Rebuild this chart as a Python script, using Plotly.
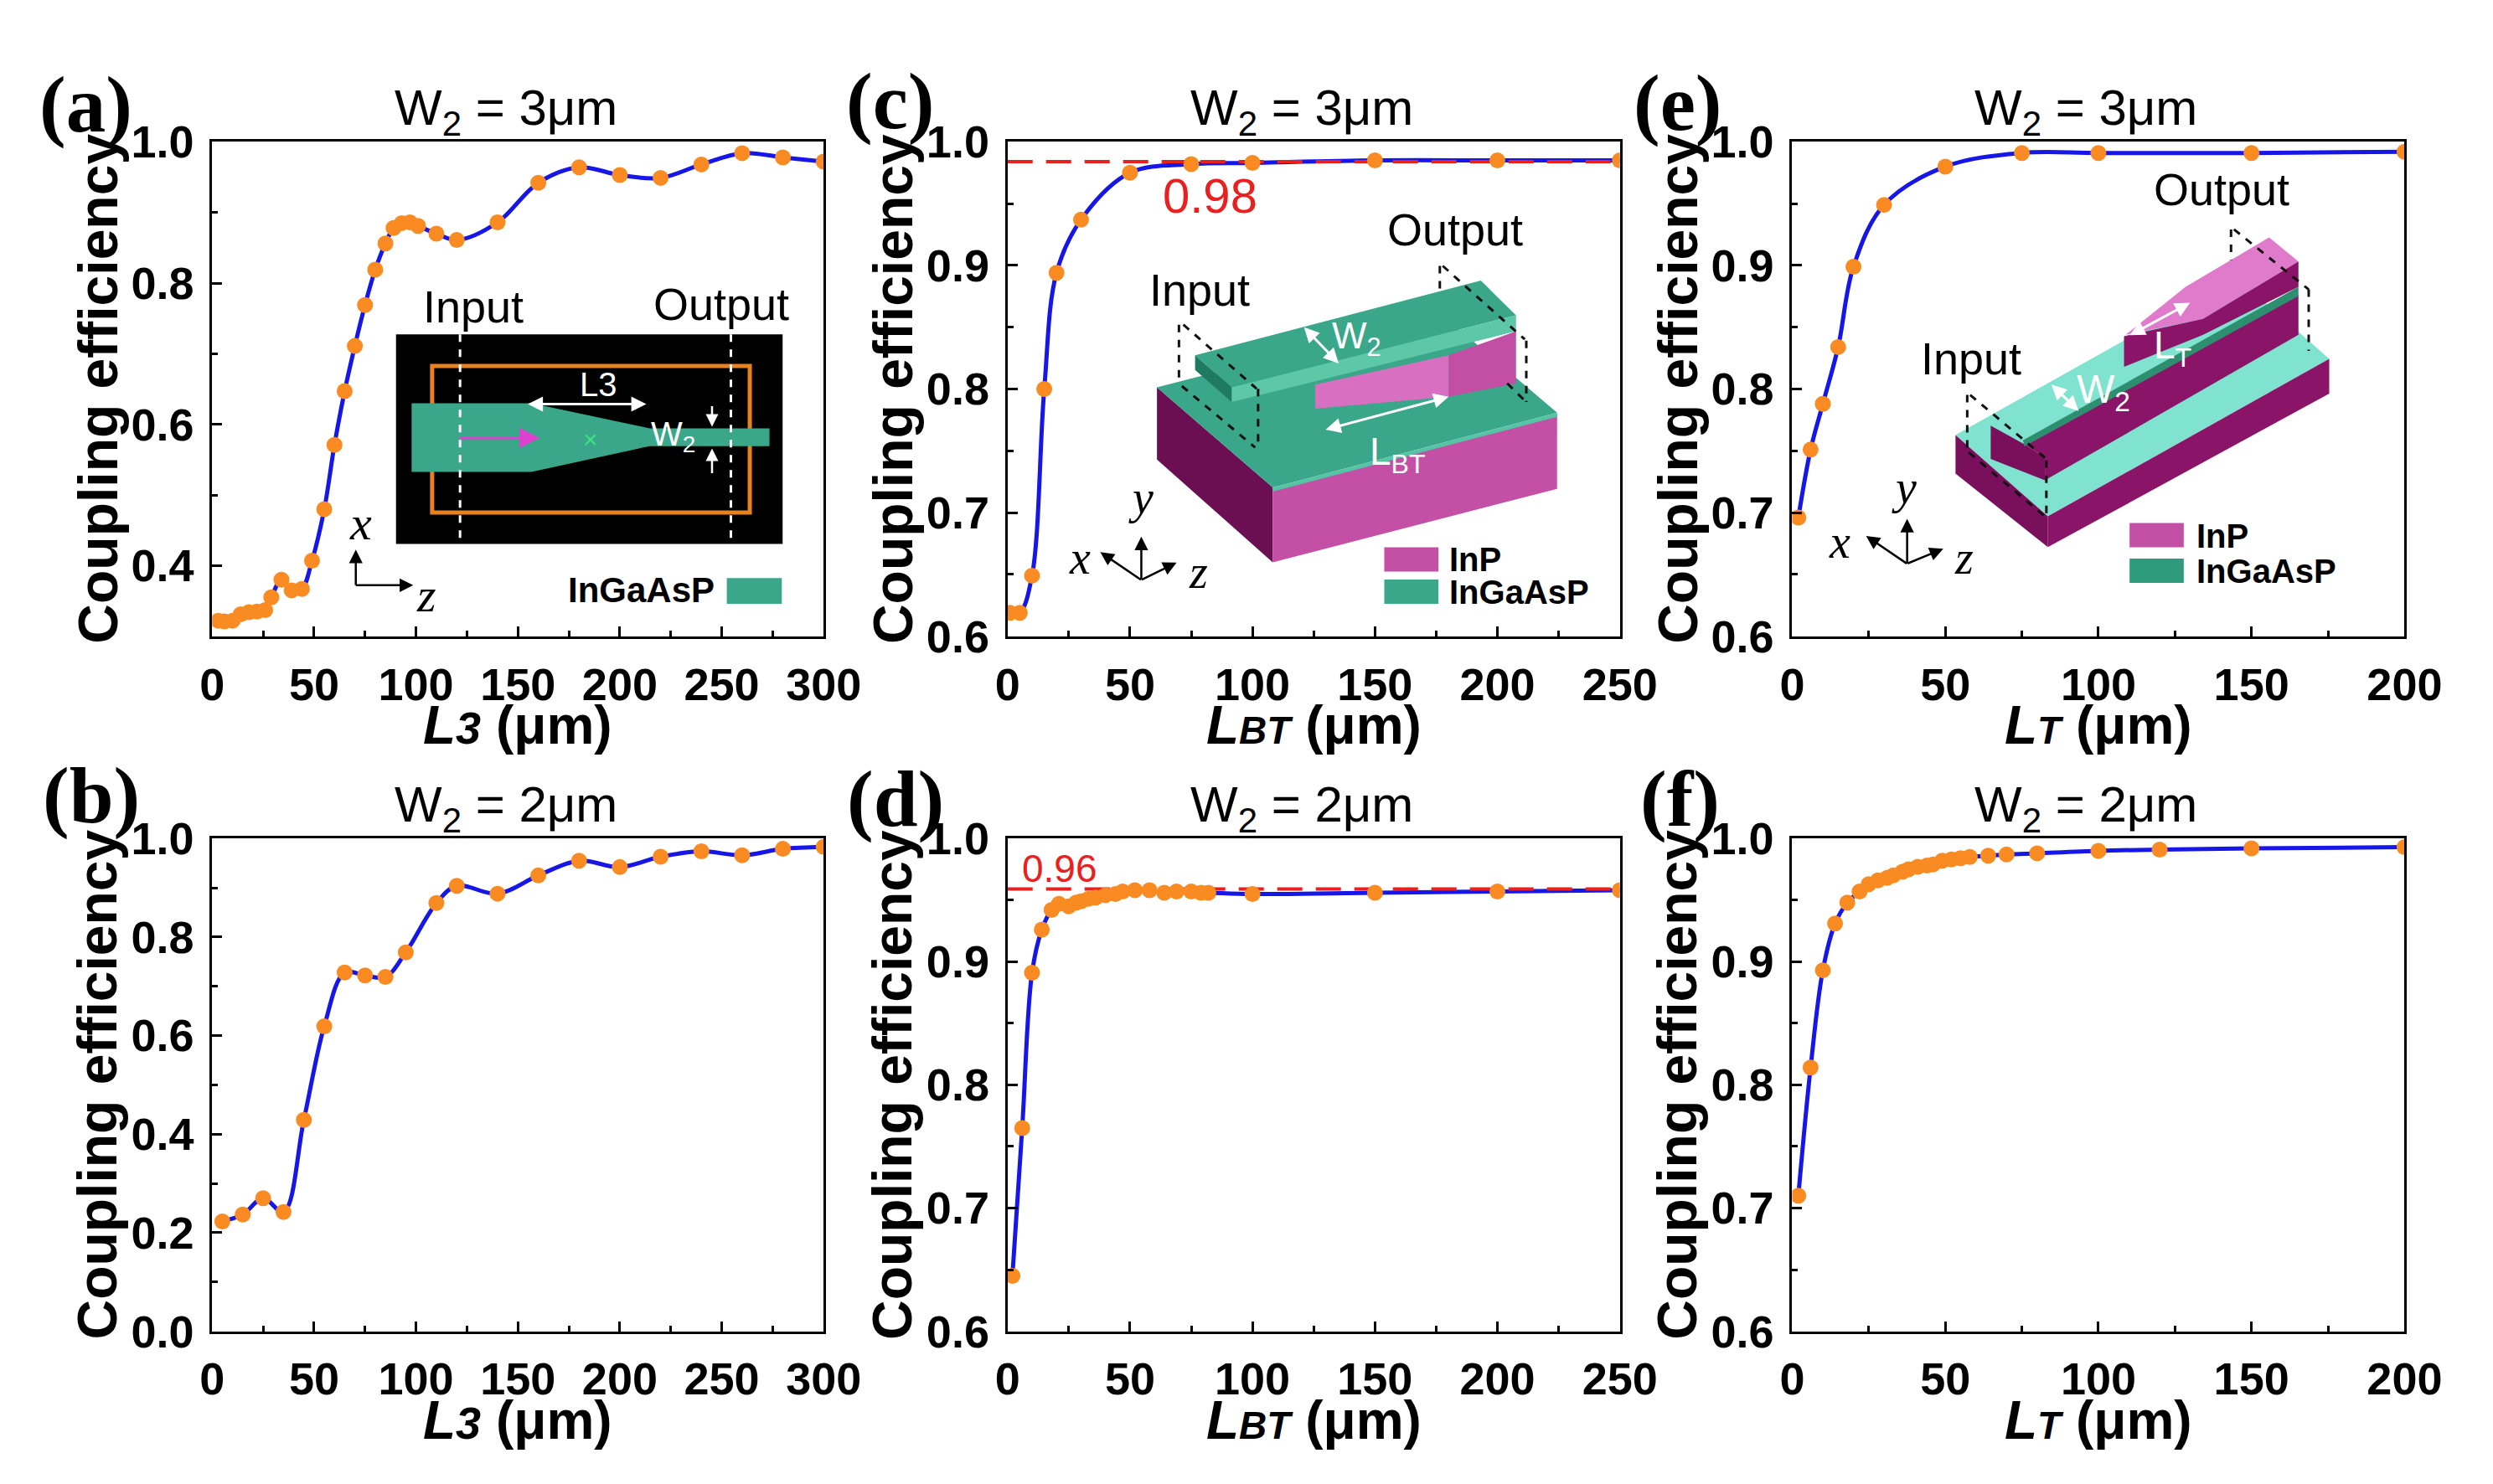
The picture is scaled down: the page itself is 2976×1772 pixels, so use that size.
import plotly.graph_objects as go

W, H = 2976, 1772

# ---------------- data ----------------
a_x = [3, 6, 10, 14, 18, 22, 26, 29, 34, 39, 44, 49, 55, 60, 65, 70, 75, 80, 85, 89,
       93, 97, 101, 110, 120, 140, 160, 180, 200, 220, 240, 260, 280, 300]
a_y = [0.322, 0.321, 0.322, 0.331, 0.334, 0.335, 0.337, 0.355, 0.380, 0.365, 0.367,
       0.407, 0.480, 0.571, 0.647, 0.711, 0.769, 0.819, 0.856, 0.878, 0.885, 0.886,
       0.881, 0.870, 0.861, 0.886, 0.942, 0.964, 0.953, 0.949, 0.968, 0.984, 0.978, 0.972]

b_x = [5, 15, 25, 35, 45, 55, 65, 75, 85, 95, 110, 120, 140, 160, 180, 200, 220, 240, 260, 280, 300]
b_y = [0.223, 0.237, 0.270, 0.242, 0.429, 0.619, 0.728, 0.722, 0.719, 0.769, 0.869,
       0.904, 0.888, 0.925, 0.955, 0.942, 0.963, 0.974, 0.966, 0.979, 0.983]

c_x = [1, 5, 10, 15, 20, 30, 50, 75, 100, 150, 200, 250]
c_y = [0.619, 0.619, 0.649, 0.800, 0.894, 0.937, 0.975, 0.982, 0.983, 0.985, 0.985, 0.985]
c_ref = 0.984
c_ref_label = "0.98"

d_x = [2, 6, 10, 14, 18, 21, 25, 28, 30, 33, 36, 40, 44, 47, 52, 58, 64, 69, 75, 79, 82,
       100, 150, 200, 250]
d_y = [0.645, 0.765, 0.891, 0.926, 0.942, 0.947, 0.945, 0.948, 0.949, 0.951, 0.952,
       0.954, 0.955, 0.957, 0.958, 0.958, 0.956, 0.957, 0.957, 0.956, 0.956, 0.955,
       0.956, 0.957, 0.958]
d_ref = 0.959
d_ref_label = "0.96"

e_x = [2, 6, 10, 15, 20, 30, 50, 75, 100, 150, 200]
e_y = [0.696, 0.751, 0.788, 0.834, 0.899, 0.949, 0.980, 0.991, 0.991, 0.991, 0.992]

f_x = [2, 6, 10, 14, 18, 22, 25, 28, 31, 33, 36, 38, 41, 44, 46, 49, 52, 55, 58, 64, 70,
       80, 100, 120, 150, 200]
f_y = [0.710, 0.814, 0.893, 0.931, 0.948, 0.957, 0.963, 0.966, 0.968, 0.970, 0.973,
       0.975, 0.977, 0.978, 0.979, 0.982, 0.983, 0.984, 0.985, 0.986, 0.987, 0.988,
       0.990, 0.991, 0.992, 0.993]

panel_letters = ["(a)", "(b)", "(c)", "(d)", "(e)", "(f)"]
panel_titles = ["W<sub>2</sub> = 3μm", "W<sub>2</sub> = 2μm"] * 3
y_title = "Coupling efficiency"

# ---------------- styles ----------------
BLUE = "#1616E6"
ORANGE = "#F98B22"
RED = "#E82020"
SANS = "Liberation Sans"
SERIF = "Liberation Serif"
GREEN = "#3AA68A"
PINK = "#C450A6"
DARKP = "#7A0F5C"
CYAN = "#80E3CF"


def PX(x):
    return x / W


def PY(y):
    return 1 - y / H


cols = [(235, 980), (1204, 1950), (2160, 2906)]
rows = [(136, 747), (997, 1606)]

xt_L3 = "<b><i>L<span style='font-size:54px'>3</span></i> (μm)</b>"
xt_LBT = "<b><i>L<span style='font-size:46px'>BT</span></i> (μm)</b>"
xt_LT = "<b><i>L<span style='font-size:46px'>T</span></i> (μm)</b>"

panels = [
    dict(x=a_x, y=a_y, col=0, row=0, xr=[0, 300], yr=[0.3, 1.0], ytick0=0.4, ydt=0.2, ymin=0.1, xt=xt_L3),
    dict(x=b_x, y=b_y, col=0, row=1, xr=[0, 300], yr=[0.0, 1.0], ytick0=0.0, ydt=0.2, ymin=0.1, xt=xt_L3),
    dict(x=c_x, y=c_y, col=1, row=0, xr=[0, 250], yr=[0.6, 1.0], ytick0=0.6, ydt=0.1, ymin=0.05, xt=xt_LBT),
    dict(x=d_x, y=d_y, col=1, row=1, xr=[0, 250], yr=[0.6, 1.0], ytick0=0.6, ydt=0.1, ymin=0.05, xt=xt_LBT),
    dict(x=e_x, y=e_y, col=2, row=0, xr=[0, 200], yr=[0.6, 1.0], ytick0=0.6, ydt=0.1, ymin=0.05, xt=xt_LT),
    dict(x=f_x, y=f_y, col=2, row=1, xr=[0, 200], yr=[0.6, 1.0], ytick0=0.6, ydt=0.1, ymin=0.05, xt=xt_LT),
]
refs = {2: (c_ref, c_ref_label), 3: (d_ref, d_ref_label)}

fig = go.Figure()
layout = dict(width=W, height=H, margin=dict(l=0, r=0, t=0, b=0),
              paper_bgcolor="white", plot_bgcolor="white", showlegend=False)
annotations = []
shapes = []


def txt(x, y, text, size, color="black", family=SANS, xanchor="center", yanchor="middle", angle=0):
    annotations.append(dict(x=PX(x), y=PY(y), xref="paper", yref="paper", text=text,
                            showarrow=False, xanchor=xanchor, yanchor=yanchor, textangle=angle,
                            font=dict(family=family, size=size, color=color)))


def arrow(x0, y0, x1, y1, color="black", width=3, both=False, size=1.3):
    annotations.append(dict(x=PX(x1), y=PY(y1), ax=x0 - x1, ay=y0 - y1, xref="paper", yref="paper",
                            axref="pixel", ayref="pixel", text="", showarrow=True, arrowhead=2,
                            arrowsize=size, arrowwidth=width, arrowcolor=color,
                            arrowside="end+start" if both else "end", standoff=0, startstandoff=0))


def poly(pts, fill, line_color=None, lw=0):
    d = "M " + " L ".join(f"{PX(x):.5f},{PY(y):.5f}" for x, y in pts) + " Z"
    shapes.append(dict(type="path", path=d, xref="paper", yref="paper", fillcolor=fill,
                       line=dict(color=line_color or fill, width=lw), layer="above"))


def seg(x0, y0, x1, y1, color="black", width=3, dash="dash"):
    shapes.append(dict(type="line", x0=PX(x0), y0=PY(y0), x1=PX(x1), y1=PY(y1), xref="paper",
                       yref="paper", line=dict(color=color, width=width, dash=dash), layer="above"))


def rect(x0, y0, x1, y1, fill=None, line_color=None, lw=0):
    shapes.append(dict(type="rect", x0=PX(x0), y0=PY(y0), x1=PX(x1), y1=PY(y1), xref="paper",
                       yref="paper", fillcolor=fill if fill else "rgba(0,0,0,0)",
                       line=dict(color=line_color or "rgba(0,0,0,0)", width=lw), layer="above"))


for i, p in enumerate(panels):
    n = i + 1
    xa = "xaxis" if n == 1 else f"xaxis{n}"
    ya = "yaxis" if n == 1 else f"yaxis{n}"
    xs = "x" if n == 1 else f"x{n}"
    ys = "y" if n == 1 else f"y{n}"
    cl, cr = cols[p["col"]]
    rt, rb = rows[p["row"]]
    common = dict(showline=True, linecolor="black", linewidth=3, mirror=True, ticks="inside",
                  ticklen=12, tickwidth=3, tickcolor="black", showgrid=False, zeroline=False,
                  tickfont=dict(family=SANS, size=54, color="black", weight="bold"),
                  ticklabelstandoff=8)
    layout[xa] = dict(common, domain=[PX(cl), PX(cr)], range=p["xr"], anchor=ys,
                      tickmode="linear", tick0=0, dtick=50,
                      minor=dict(ticks="inside", ticklen=7, tickwidth=3, tickcolor="black",
                                 tickmode="linear", tick0=0, dtick=25))
    layout[ya] = dict(common, domain=[PY(rb), PY(rt)], range=p["yr"], anchor=xs,
                      tickmode="linear", tick0=p["ytick0"], dtick=p["ydt"], tickformat=".1f",
                      minor=dict(ticks="inside", ticklen=7, tickwidth=3, tickcolor="black",
                                 tickmode="linear", tick0=p["yr"][0], dtick=p["ymin"]))
    fig.add_trace(go.Scatter(x=p["x"], y=p["y"], mode="lines", xaxis=xs, yaxis=ys,
                             line=dict(color=BLUE, width=5, shape="spline", smoothing=1.0)))
    if i in refs:
        rv, rl = refs[i]
        fig.add_trace(go.Scatter(x=p["xr"], y=[rv, rv], mode="lines", xaxis=xs, yaxis=ys,
                                 line=dict(color=RED, width=4, dash="30px,16px")))
    fig.add_trace(go.Scatter(x=p["x"], y=p["y"], mode="markers", xaxis=xs, yaxis=ys,
                             marker=dict(color=ORANGE, size=19, line=dict(width=0))))
    # titles / axis titles / letters
    txt((cl + cr) / 2 - 15, rt - 38, panel_titles[i], 60)
    txt((cl + cr) / 2, rb + 110, p["xt"], 64)
    txt(cl - 140, (rt + rb) / 2, f"<b>{y_title}</b>", 66, angle=-90)

letter_pos = [(81, 90), (88, 944), (1061, 86), (1068, 948), (2020, 88), (2023, 948)]
for (lx, ly), lt in zip(letter_pos, panel_letters):
    txt(lx, ly, f"<b>{lt}</b>", 95, family=SERIF)

# reference labels
txt(1451, 202, c_ref_label, 58, color=RED)
txt(1268, 1034, d_ref_label, 46, color=RED)

# ---------------- inset (a): top view of taper ----------------
rect(459, 374, 930, 633, fill="black")
rect(503, 413, 890, 594, line_color="#E8821E", lw=5)
poly([(478, 459), (624, 459), (768, 490), (914, 490), (914, 512), (768, 512), (624, 544), (478, 544)], GREEN)
seg(537, 374, 537, 633, color="white", width=3, dash="dash")
seg(867, 374, 867, 633, color="white", width=3, dash="dash")
arrow(537, 502, 634, 502, color="#E040D0", width=3, size=1.6)
txt(696, 504, "×", 30, color="#40E080")
arrow(621, 460, 764, 460, color="white", width=3, both=True, size=1.2)
txt(706, 436, "L3", 40, color="white")
txt(797, 500, "W<sub>2</sub>", 40, color="white")
arrow(844, 462, 844, 488, color="white", width=2.5, size=1.2)
arrow(844, 546, 844, 515, color="white", width=2.5, size=1.2)
txt(553, 339, "Input", 54)
txt(855, 336, "Output", 54)
arrow(410, 684, 410, 640, width=2.5, size=1.3)
arrow(410, 684, 480, 684, width=2.5, size=1.3)
txt(416, 607, "<i>x</i>", 58, family=SERIF)
txt(496, 696, "<i>z</i>", 58, family=SERIF)
txt(849, 690, "<b>InGaAsP</b>", 42, xanchor="right")
rect(862, 675, 929, 707, fill=GREEN)


# ---------------- inset (c): 3D butt-taper ----------------
def tc(pts):
    return [(1370 + x * 0.3571, 220 + y * 0.33) for x, y in pts]


poly(tc([(45, 665), (440, 1040), (440, 1320), (45, 935)]), "#6B0E52")
poly(tc([(440, 1045), (1410, 765), (1410, 1045), (440, 1320)]), PINK)
poly(tc([(45, 665), (440, 1040), (1410, 760), (1015, 390)]), GREEN)
poly(tc([(440, 1040), (1410, 760), (1410, 775), (440, 1055)]), "#55C4A5")
poly(tc([(585, 655), (1040, 545), (1040, 700), (585, 745)]), "#D96FC0")
poly(tc([(1040, 545), (1270, 455), (1270, 650), (1040, 700)]), "#C24FA4")
poly(tc([(175, 545), (1150, 265), (1270, 395), (300, 665)]), GREEN)
poly(tc([(175, 545), (300, 665), (300, 720), (175, 600)]), "#1E7A60")
poly(tc([(300, 665), (1270, 395), (1270, 455), (300, 720)]), "#5CC8A8")
for (x0, y0, x1, y1) in [(120, 430, 120, 650), (135, 430, 385, 670), (390, 670, 390, 890),
                         (130, 660, 380, 890), (1010, 210, 1010, 300), (1020, 210, 1300, 485),
                         (1305, 490, 1305, 720), (1240, 650, 1305, 720)]:
    (a0, b0), (a1, b1) = tc([(x0, y0), (x1, y1)])
    seg(a0, b0, a1, b1, color="#111111", width=3, dash="dash")
(w0x, w0y), (w1x, w1y) = tc([(545, 440), (665, 575)])
arrow(w0x, w0y, w1x, w1y, color="white", width=3, both=True, size=1.2)
(l0x, l0y), (l1x, l1y) = tc([(625, 820), (1040, 700)])
arrow(l0x, l0y, l1x, l1y, color="white", width=3, both=True, size=1.2)
(tx, ty), = tc([(725, 480)])
txt(tx, ty, "W<sub>2</sub>", 44, color="white")
(tx, ty), = tc([(865, 915)])
txt(tx, ty, "L<sub>BT</sub>", 46, color="white")
txt(1438, 319, "Input", 54)
txt(1749, 244, "Output", 54)
rect(1663, 637, 1729, 667, fill=PINK)
rect(1663, 677, 1729, 707, fill=GREEN)
txt(1740, 652, "<b>InP</b>", 40, xanchor="left")
txt(1740, 692, "<b>InGaAsP</b>", 40, xanchor="left")
arrow(1367, 677, 1367, 624, width=2.5)
arrow(1367, 677, 1317, 643, width=2.5)
arrow(1367, 677, 1410, 656, width=2.5)
txt(1367, 575, "<i>y</i>", 56, family=SERIF)
txt(1292, 650, "<i>x</i>", 56, family=SERIF)
txt(1436, 668, "<i>z</i>", 56, family=SERIF)


# ---------------- inset (e): 3D taper ----------------
def te(pts):
    return [(2300 + x * 0.3571, 160 + y * 0.33) for x, y in pts]


poly(te([(165, 1025), (480, 1330), (1440, 740), (1125, 435)]), CYAN)
poly(te([(165, 1025), (480, 1330), (480, 1445), (165, 1170)]), DARKP)
poly(te([(480, 1330), (1440, 740), (1440, 870), (480, 1445)]), "#8A1467")
poly(te([(285, 990), (400, 1060), (470, 1110), (470, 1195), (285, 1115)]), DARKP)
poly(te([(400, 1060), (1335, 500), (1335, 650), (470, 1195), (470, 1110)]), "#8A1467")
poly(te([(395, 1045), (1335, 470), (1335, 505), (400, 1068)]), "#2E8F70")
poly(te([(745, 650), (950, 470), (1235, 285), (1335, 375), (1010, 590)]), "#E07BCB")
poly(te([(740, 655), (1010, 590), (1335, 375), (1335, 470), (1010, 650), (740, 770)]), "#8A1467")
for (x0, y0, x1, y1) in [(205, 875, 205, 1090), (215, 875, 470, 1110), (475, 1120, 475, 1335),
                         (210, 1090, 470, 1330), (1105, 255, 1105, 370), (1115, 255, 1370, 480),
                         (1370, 480, 1370, 710)]:
    (a0, b0), (a1, b1) = te([(x0, y0), (x1, y1)])
    seg(a0, b0, a1, b1, color="#111111", width=3, dash="dash")
(w0x, w0y), (w1x, w1y) = te([(490, 835), (585, 935)])
arrow(w0x, w0y, w1x, w1y, color="white", width=3, both=True, size=1.2)
(l0x, l0y), (l1x, l1y) = te([(760, 650), (965, 530)])
arrow(l0x, l0y, l1x, l1y, color="white", width=3, both=True, size=1.2)
(tx, ty), = te([(670, 865)])
txt(tx, ty, "W<sub>2</sub>", 48, color="white")
(tx, ty), = te([(905, 700)])
txt(tx, ty, "L<sub>T</sub>", 46, color="white")
txt(2378, 404, "Input", 54)
txt(2683, 195, "Output", 54)
rect(2571, 607, 2637, 637, fill=PINK)
rect(2571, 651, 2637, 681, fill="#2E9B7E")
txt(2650, 623, "<b>InP</b>", 40, xanchor="left")
txt(2650, 667, "<b>InGaAsP</b>", 40, xanchor="left")
arrow(2300, 657, 2300, 602, width=2.5)
arrow(2300, 657, 2250, 623, width=2.5)
arrow(2300, 657, 2344, 639, width=2.5)
txt(2296, 563, "<i>y</i>", 56, family=SERIF)
txt(2218, 630, "<i>x</i>", 56, family=SERIF)
txt(2369, 650, "<i>z</i>", 56, family=SERIF)

layout["annotations"] = annotations
layout["shapes"] = shapes
fig.update_layout(**layout)
fig.write_html("out.html")
